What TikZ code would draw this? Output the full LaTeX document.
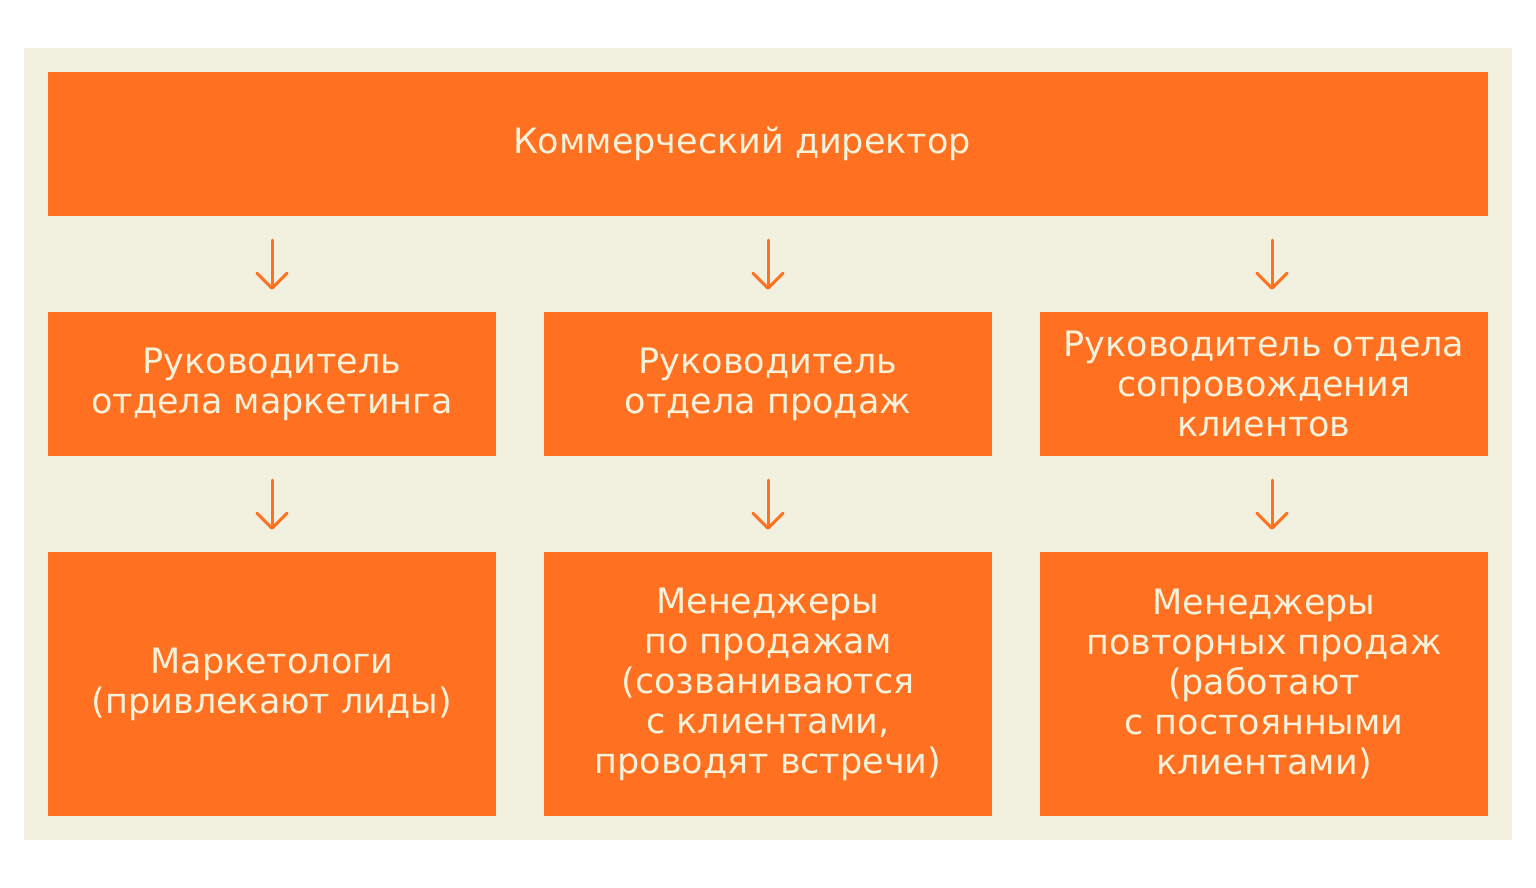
\documentclass[tikz,border=0pt]{standalone}
\usepackage{fontspec}
\setmainfont{DejaVu Sans}
\usetikzlibrary{arrows.meta}
\definecolor{bgpanel}{HTML}{F2F1DF}
\definecolor{boxorange}{HTML}{FF7020}
\definecolor{boxtext}{HTML}{F5F2DC}
\tikzset{
  orgbox/.style={fill=boxorange, draw=none, inner sep=0pt, text=boxtext, align=center,
    font=\fontsize{35pt}{40pt}\selectfont},
  downarrow/.style={draw=boxorange, line width=3pt, line cap=round,
    -{Straight Barb[length=15pt, width=30pt, line width=3pt, round]}}
}
\begin{document}
\begin{tikzpicture}[x=1pt, y=-1pt]
\useasboundingbox (0,0) rectangle (1536,888);
\fill[white] (0,0) rectangle (1536,888);
\fill[bgpanel] (24,48) rectangle (1512,840);
\node[orgbox, minimum width=1440pt, minimum height=144pt] (top) at (768,144) {\hspace*{-52pt}Коммерческий директор};
\node[orgbox, minimum width=448pt, minimum height=144pt] (m1) at (272,384) {Руководитель\\отдела маркетинга};
\node[orgbox, minimum width=448pt, minimum height=144pt] (m2) at (768,384) {Руководитель\\отдела продаж};
\node[orgbox, minimum width=448pt, minimum height=144pt] (m3) at (1264,384) {Руководитель отдела\\сопровождения\\клиентов};
\node[orgbox, minimum width=448pt, minimum height=264pt] (b1) at (272,684) {Маркетологи\\(привлекают лиды)};
\node[orgbox, minimum width=448pt, minimum height=264pt] (b2) at (768,684) {Менеджеры\\по продажам\\(созваниваются\\с клиентами,\\проводят встречи)};
\node[orgbox, minimum width=448pt, minimum height=264pt] (b3) at (1264,684) {Менеджеры\\повторных продаж\\(работают\\с постоянными\\клиентами)};
\draw[downarrow] ([yshift=-24pt]top.south -| m1.north) -- ([yshift=22pt]m1.north);
\draw[downarrow] ([yshift=-24pt]top.south -| m2.north) -- ([yshift=22pt]m2.north);
\draw[downarrow] ([yshift=-24pt,xshift=8pt]top.south -| m3.north) -- ([yshift=22pt,xshift=8pt]m3.north);
\draw[downarrow] ([yshift=-24pt]m1.south) -- ([yshift=22pt]b1.north);
\draw[downarrow] ([yshift=-24pt]m2.south) -- ([yshift=22pt]b2.north);
\draw[downarrow] ([yshift=-24pt,xshift=8pt]m3.south) -- ([yshift=22pt,xshift=8pt]b3.north);
\end{tikzpicture}
\end{document}
